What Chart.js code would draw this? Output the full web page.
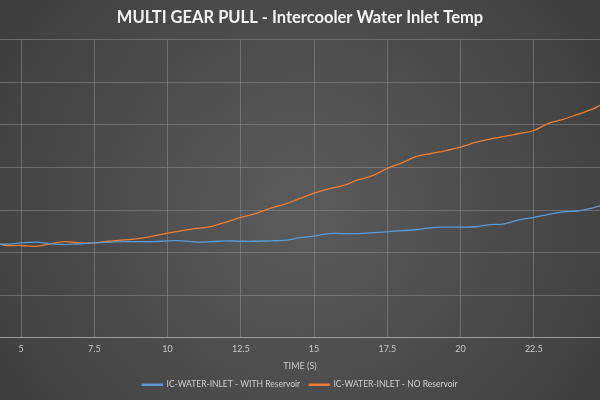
<!DOCTYPE html>
<html lang="en">
<head>
  <meta charset="UTF-8" />
  <title>MULTI GEAR PULL - Intercooler Water Inlet Temp</title>
  <script src="https://cdn.jsdelivr.net/npm/chart.js"></script>
  <style>
    body { margin: 0; background: #474747; }
    #wrap { width: 600px; height: 400px; }
  </style>
</head>
<body>
  <div id="wrap">
    <canvas id="grafico" width="600" height="400"></canvas>
  </div>

  <script>
    // time in seconds
    const tempos = [4.28, 4.5, 5, 5.5, 6, 6.5, 7, 7.5, 8, 8.5, 9, 9.5, 10, 10.5, 11, 11.5, 12, 12.5, 13, 13.5,
      14, 14.5, 15, 15.5, 16, 16.5, 17, 17.5, 18, 18.5, 19, 19.5, 20, 20.5, 21, 21.5, 22, 22.5, 23, 23.5,
      24, 24.5, 24.76];

    const comReservatorio = [22.0, 22.0, 22.3, 22.5, 22.1, 21.9, 22.1, 22.3, 22.5, 22.6, 22.6, 22.6, 22.8, 22.8,
      22.5, 22.6, 22.8, 22.7, 22.7, 22.8, 22.9, 23.5, 23.9, 24.5, 24.5, 24.5, 24.7, 24.9, 25.2, 25.4,
      25.9, 26.0, 26.0, 26.1, 26.6, 26.8, 27.7, 28.3, 29.0, 29.6, 29.8, 30.5, 31.0];

    const semReservatorio = [22.0, 21.7, 21.7, 21.5, 22.1, 22.6, 22.3, 22.3, 22.7, 23.0, 23.3, 23.9, 24.6, 25.2,
      25.7, 26.2, 27.2, 28.3, 29.2, 30.4, 31.4, 32.7, 34.0, 35.0, 35.8, 37.1, 38.1, 39.8, 41.1, 42.6,
      43.3, 44.0, 44.8, 45.9, 46.7, 47.3, 48.0, 48.7, 50.4, 51.3, 52.5, 53.7, 54.6];

    const ticksX = [5, 7.5, 10, 12.5, 15, 17.5, 20, 22.5];

    const fundo = {
      id: 'fundo',
      beforeDraw(chart) {
        const ctx = chart.ctx;
        const g = ctx.createRadialGradient(300, 210, 20, 300, 210, 430);
        g.addColorStop(0, '#5a5a5a');
        g.addColorStop(1, '#383838');
        ctx.save();
        ctx.fillStyle = g;
        ctx.fillRect(0, 0, chart.width, chart.height);
        ctx.restore();
      }
    };

    const ctx = document.getElementById('grafico').getContext('2d');

    new Chart(ctx, {
      type: 'line',
      data: {
        datasets: [{
          label: 'IC-WATER-INLET - WITH Reservoir',
          data: tempos.map((t, i) => ({ x: t, y: comReservatorio[i] })),
          borderColor: '#5b9bd5',
          backgroundColor: '#5b9bd5',
          borderWidth: 1.3,
          pointRadius: 0,
          tension: 0.4,
        }, {
          label: 'IC-WATER-INLET - NO Reservoir',
          data: tempos.map((t, i) => ({ x: t, y: semReservatorio[i] })),
          borderColor: '#ed7d31',
          backgroundColor: '#ed7d31',
          borderWidth: 1.3,
          pointRadius: 0,
          tension: 0.4,
        }],
      },
      options: {
        responsive: false,
        animation: false,
        layout: {
          padding: { left: 0, right: 0, top: 0, bottom: 1 },
        },
        scales: {
          x: {
            type: 'linear',
            min: 4.28,
            max: 24.76,
            afterBuildTicks: (axis) => {
              axis.ticks = ticksX.map(v => ({ value: v }));
            },
            grid: {
              color: 'rgba(140, 140, 140, 0.55)',
              drawTicks: false,
            },
            border: {
              color: 'rgba(170, 170, 170, 0.8)',
            },
            ticks: {
              color: '#c8c8c8',
              padding: 6,
              maxRotation: 0,
              font: { family: 'Lato', size: 9 },
            },
            title: {
              display: true,
              text: 'TIME (S)',
              color: '#c8c8c8',
              padding: { top: 0, bottom: 0 },
              font: { family: 'Lato', size: 9 },
            },
          },
          y: {
            min: 0,
            max: 70,
            ticks: {
              display: false,
              stepSize: 10,
            },
            grid: {
              color: 'rgba(140, 140, 140, 0.55)',
              drawTicks: false,
            },
            border: {
              display: false,
            },
          },
        },
        plugins: {
          title: {
            display: true,
            text: 'MULTI GEAR PULL - Intercooler Water Inlet Temp',
            color: '#f2f2f2',
            padding: { top: 8, bottom: 12 },
            font: { family: 'Lato', size: 16.5, weight: 'bold' },
          },
          legend: {
            position: 'bottom',
            labels: {
              color: '#d0d0d0',
              boxWidth: 20,
              boxHeight: 1,
              padding: 9,
              font: { family: 'Lato', size: 8.5 },
            },
          },
          tooltip: { enabled: false },
        },
      },
      plugins: [fundo],
    });
  </script>
</body>
</html>
